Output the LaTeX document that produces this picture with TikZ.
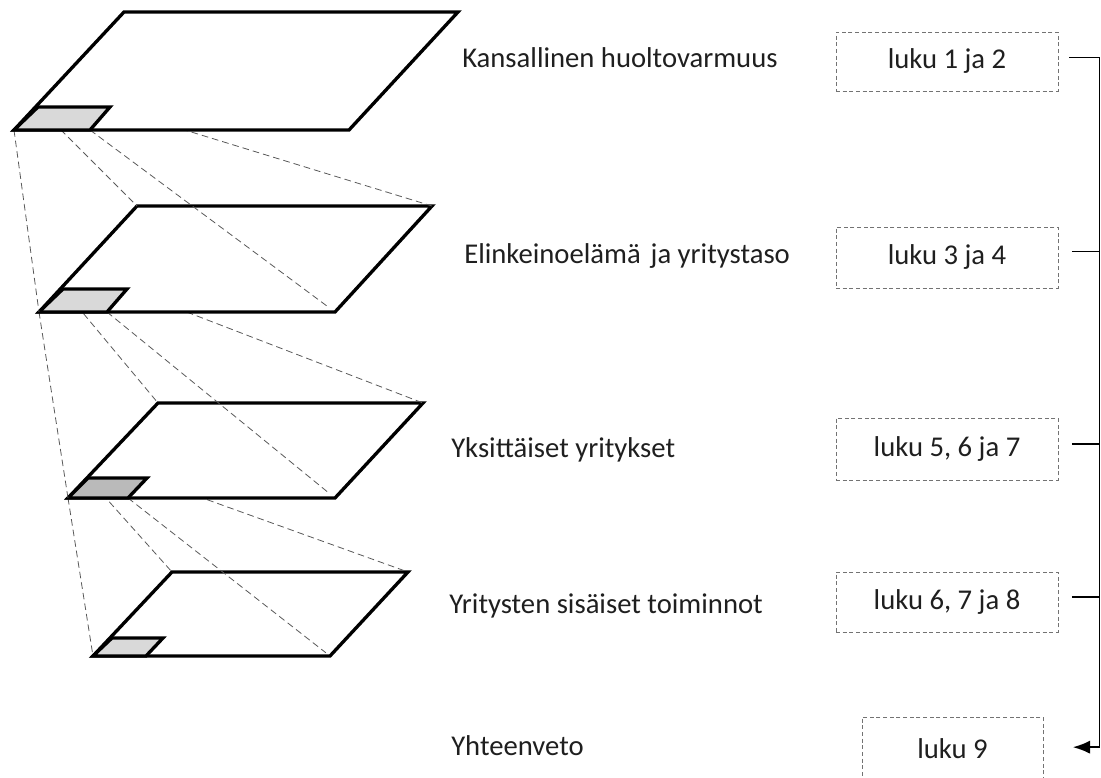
\documentclass[tikz,border=0pt]{standalone}
\usepackage{fontspec}
\setmainfont{Carlito}
\usetikzlibrary{arrows.meta}
\begin{document}
\begin{tikzpicture}[x=0.75pt,y=-0.75pt,
  plane/.style={draw=black,line width=2.5pt,fill=white,line join=miter},
  smallA/.style={draw=black,line width=2.5pt,fill=black!15,line join=miter},
  smallB/.style={draw=black,line width=2.5pt,fill=black!27,line join=miter},
  proj/.style={draw=black!65,line width=0.6pt,dash pattern=on 5pt off 3pt},
  lbl/.style={anchor=base west,inner sep=0pt,text=black!88,font=\fontsize{21.5}{26}\selectfont},
  chap/.style={draw=black!55,line width=0.75pt,dash pattern=on 3pt off 2pt,text=black!88,
    font=\fontsize{21.5}{26}\selectfont,inner sep=0pt},
  conn/.style={draw=black,line width=1.3pt}
]
\useasboundingbox (0,0) rectangle (1101,778);
\clip (0,0) rectangle (1101,778);

% plane 4
\draw[plane] (93,656) -- (330,656) -- (408,572) -- (172,572) -- cycle;
\draw[smallA] (93,656) -- (146,656) -- (163,638) -- (112,638) -- cycle;
% projections 3 -> 4
\draw[proj] (68,498) -- (93,656);
\draw[proj] (88,478) -- (172,572);
\draw[proj] (147,478) -- (408,572);
\draw[proj,shorten >=4pt] (128,498) -- (330,656);
% plane 3
\draw[plane] (68,498) -- (335,498) -- (423,403) -- (158,403) -- cycle;
\draw[smallB] (68,498) -- (128,498) -- (147,478) -- (88,478) -- cycle;
% projections 2 -> 3
\draw[proj] (39,312) -- (68,498);
\draw[proj] (63,289) -- (158,403);
\draw[proj] (127,289) -- (423,403);
\draw[proj,shorten >=7pt] (107,312) -- (335,498);
% plane 2
\draw[plane] (39,312) -- (335,312) -- (432,206) -- (137,206) -- cycle;
\draw[smallA] (39,312) -- (107,312) -- (127,289) -- (63,289) -- cycle;
% projections 1 -> 2
\draw[proj] (14,130) -- (39,312);
\draw[proj] (38,107) -- (137,206);
\draw[proj] (110,107) -- (432,206);
\draw[proj,shorten >=7pt] (90,130) -- (335,312);
% plane 1
\draw[plane] (14,130) -- (349,130) -- (458,12) -- (124,12) -- cycle;
\draw[smallA] (14,130) -- (90,130) -- (110,107) -- (38,107) -- cycle;

% level labels
\node[lbl] (l1) at (462,67) {Kansallinen huoltovarmuus};
\node[lbl] (l2) at (464,263) {Elinkeinoelämä\hspace{0.12em} ja yritystaso};
\node[lbl] (l3) at (451,457) {Yksittäiset yritykset};
\node[lbl] (l4) at (449,613) {Yritysten sisäiset toiminnot};
\node[lbl] (l5) at (451,755) {Yhteenveto};

% chapter boxes
\node[chap,minimum width=166.5pt,minimum height=44.25pt] (b1) at (947,61.5) {luku 1 ja 2};
\node[chap,minimum width=166.5pt,minimum height=45.75pt] (b2) at (947,257.5) {luku 3 ja 4};
\node[chap,minimum width=166.5pt,minimum height=46.5pt] (b3) at (947,449) {luku 5, 6 ja 7};
\node[chap,minimum width=166.5pt,minimum height=45pt] (b4) at (947,602) {luku 6, 7 ja 8};
\node[chap,minimum width=135.75pt,minimum height=47.25pt] (b5) at (952.5,748.5) {luku 9};

% connectors
\coordinate (bus) at ([xshift=30.75pt,yshift=3pt]b1.east);
\draw[conn] ([xshift=8pt,yshift=3pt]b1.east) -- (bus);
\draw[conn] ([xshift=10pt,yshift=4.5pt]b2.east) -- ([yshift=4.5pt]b2.east -| bus);
\draw[conn] ([xshift=10pt,yshift=4pt]b3.east) -- ([yshift=4pt]b3.east -| bus);
\draw[conn] ([xshift=10pt,yshift=4pt]b4.east) -- ([yshift=4pt]b4.east -| bus);
\draw[conn,-{Latex[length=13pt,width=10pt]}] (bus) |- ([xshift=22pt,yshift=1pt]b5.east);
\end{tikzpicture}
\end{document}
